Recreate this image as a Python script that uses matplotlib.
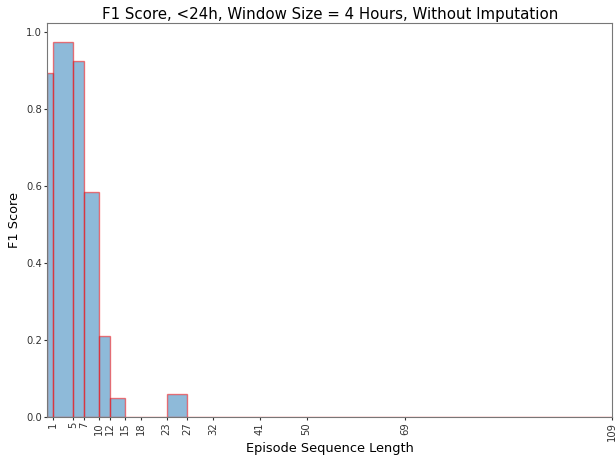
import numpy as np
import matplotlib
matplotlib.use("Agg")
import matplotlib.pyplot as plt

# bin edges (episode sequence length) and F1 score per bin
edges = [0, 1, 5, 7, 10, 12, 15, 18, 23, 27, 32, 41, 50, 69, 109]
f1 = [0.893, 0.975, 0.925, 0.585, 0.21, 0.05, 0.0, 0.0, 0.06, 0.0, 0.0, 0.0, 0.0, 0.0]
tick_labels = [1, 5, 7, 10, 12, 15, 18, 23, 27, 32, 41, 50, 69, 109]

fig = plt.figure(figsize=(6.16, 4.57), dpi=100)
ax = fig.add_axes([0.077, 0.088, 0.917, 0.862])

left = np.array(edges[:-1])
widths = np.diff(edges)
ax.bar(left, f1, width=widths, align="edge", color="C0", edgecolor="red", alpha=0.5)

ax.set_xlim(0, 109)
ax.set_xticks(tick_labels)
ax.set_xticklabels([str(t) for t in tick_labels], rotation=90, fontsize=7.2)
ax.tick_params(axis="y", labelsize=7.2)
ax.tick_params(colors="#333333", length=2.5, pad=1.3)
for s in ax.spines.values():
    s.set_color("#777777")

ax.set_title("F1 Score, <24h, Window Size = 4 Hours, Without Imputation",
             fontsize=10.85, pad=3)
ax.set_xlabel("Episode Sequence Length", fontsize=9.3, labelpad=1)
ax.set_ylabel("F1 Score", fontsize=9.3, labelpad=4)

fig.savefig("out.png", dpi=100)
